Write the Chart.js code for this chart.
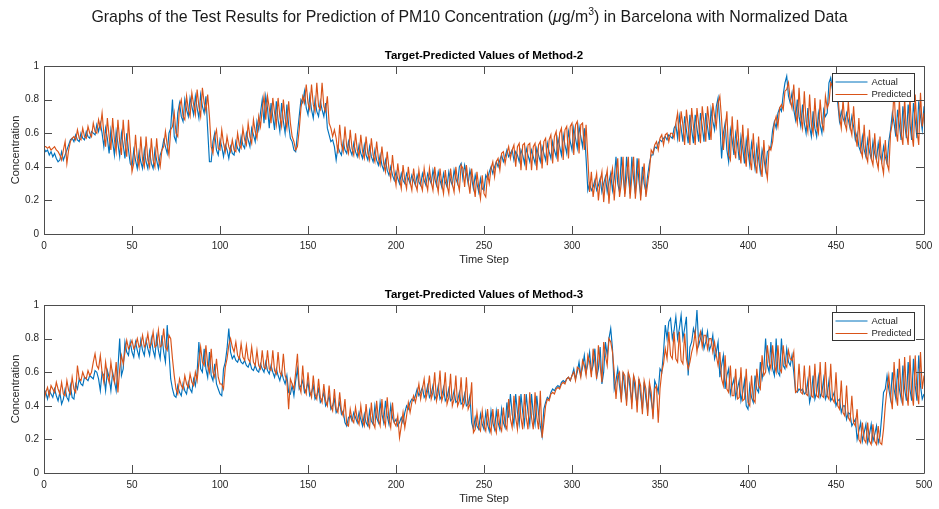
<!DOCTYPE html>
<html>
<head>
<meta charset="utf-8">
<script src="https://cdn.jsdelivr.net/npm/chart.js@4.4.1/dist/chart.umd.min.js"></script>
<style>
  html, body { margin: 0; padding: 0; background: #fff; }
  #page { position: relative; width: 939px; height: 509px; overflow: hidden; background: #fff; }
  #figTitle { position: absolute; left: 0; top: 8px; width: 939px; text-align: center; z-index: 2;
              font: 15.9px "Liberation Sans", Arial, Helvetica, sans-serif; color: #1a1a1a; white-space: nowrap; }
  #figTitle sup { font-size: 10.5px; vertical-align: 7px; line-height: 0; }
  canvas { position: absolute; left: 0; }
</style>
</head>
<body>
<div id="page">
  <div id="figTitle">Graphs of the Test Results for Prediction of PM10 Concentration (<i>μ</i>g/m<sup>3</sup>) in Barcelona with Normalized Data</div>
  <canvas id="panel2" width="939" height="270" style="top:0"></canvas>
  <canvas id="panel3" width="939" height="239" style="top:270px"></canvas>
</div>
<script>
// Method-2: measured (actual) and predicted normalized PM10, time steps 0..500
const actual2 = [
  0.51, 0.49, 0.50, 0.47, 0.49, 0.46, 0.48, 0.45, 0.43, 0.44,
  0.49, 0.44, 0.47, 0.50, 0.53, 0.56, 0.57, 0.55, 0.59, 0.56,
  0.55, 0.60, 0.57, 0.56, 0.61, 0.58, 0.57, 0.61, 0.60, 0.59,
  0.65, 0.61, 0.66, 0.60, 0.52, 0.63, 0.57, 0.48, 0.62, 0.55,
  0.47, 0.61, 0.54, 0.46, 0.60, 0.53, 0.45, 0.60, 0.50, 0.42,
  0.40, 0.50, 0.44, 0.39, 0.49, 0.43, 0.39, 0.50, 0.43, 0.39,
  0.49, 0.42, 0.39, 0.50, 0.44, 0.39, 0.47, 0.50, 0.56, 0.52,
  0.48, 0.60, 0.63, 0.80, 0.58, 0.55, 0.72, 0.78, 0.70, 0.67,
  0.80, 0.74, 0.70, 0.81, 0.76, 0.71, 0.82, 0.75, 0.69, 0.83,
  0.76, 0.72, 0.82, 0.62, 0.43, 0.43, 0.55, 0.60, 0.50, 0.47,
  0.56, 0.52, 0.46, 0.53, 0.50, 0.45, 0.52, 0.48, 0.47, 0.55,
  0.51, 0.49, 0.58, 0.53, 0.51, 0.60, 0.56, 0.52, 0.63, 0.59,
  0.55, 0.67, 0.62, 0.72, 0.80, 0.66, 0.82, 0.75, 0.63, 0.78,
  0.70, 0.62, 0.79, 0.68, 0.61, 0.78, 0.67, 0.60, 0.77, 0.65,
  0.57, 0.55, 0.50, 0.49, 0.60, 0.70, 0.80, 0.78, 0.85, 0.75,
  0.71, 0.82, 0.74, 0.69, 0.80, 0.73, 0.70, 0.79, 0.74, 0.70,
  0.78, 0.63, 0.59, 0.55, 0.56, 0.52, 0.44, 0.52, 0.49, 0.47,
  0.55, 0.50, 0.48, 0.55, 0.50, 0.47, 0.54, 0.49, 0.46, 0.53,
  0.48, 0.45, 0.53, 0.47, 0.44, 0.52, 0.46, 0.43, 0.50, 0.44,
  0.41, 0.47, 0.41, 0.38, 0.44, 0.38, 0.35, 0.40, 0.35, 0.32,
  0.37, 0.33, 0.30, 0.36, 0.32, 0.30, 0.36, 0.33, 0.30, 0.35,
  0.32, 0.29, 0.35, 0.31, 0.29, 0.36, 0.32, 0.29, 0.36, 0.33,
  0.30, 0.38, 0.33, 0.29, 0.37, 0.32, 0.28, 0.36, 0.31, 0.28,
  0.37, 0.32, 0.29, 0.38, 0.33, 0.30, 0.40, 0.42, 0.33, 0.41,
  0.36, 0.30, 0.38, 0.33, 0.27, 0.35, 0.30, 0.25, 0.33, 0.27,
  0.26, 0.35, 0.33, 0.37, 0.40, 0.36, 0.40, 0.43, 0.40, 0.44,
  0.47, 0.43, 0.46, 0.50, 0.46, 0.48, 0.50, 0.44, 0.49, 0.47,
  0.43, 0.50, 0.47, 0.42, 0.51, 0.47, 0.43, 0.50, 0.46, 0.42,
  0.51, 0.47, 0.43, 0.52, 0.48, 0.44, 0.54, 0.49, 0.45, 0.55,
  0.50, 0.46, 0.57, 0.52, 0.47, 0.59, 0.53, 0.48, 0.61, 0.55,
  0.50, 0.63, 0.57, 0.51, 0.64, 0.58, 0.52, 0.63, 0.45, 0.26,
  0.30, 0.26, 0.28, 0.32, 0.26, 0.29, 0.33, 0.25, 0.30, 0.34,
  0.25, 0.31, 0.36, 0.26, 0.33, 0.46, 0.30, 0.25, 0.46, 0.35,
  0.24, 0.46, 0.34, 0.24, 0.46, 0.33, 0.24, 0.45, 0.32, 0.23,
  0.40, 0.30, 0.25, 0.35, 0.42, 0.47, 0.47, 0.52, 0.51, 0.54,
  0.56, 0.55, 0.57, 0.58, 0.56, 0.59, 0.58, 0.57, 0.63, 0.65,
  0.57, 0.70, 0.63, 0.55, 0.70, 0.62, 0.54, 0.71, 0.62, 0.54,
  0.71, 0.63, 0.55, 0.72, 0.64, 0.55, 0.72, 0.64, 0.56, 0.74,
  0.67, 0.62, 0.76, 0.81, 0.66, 0.45, 0.60, 0.66, 0.50, 0.43,
  0.62, 0.56, 0.47, 0.60, 0.54, 0.44, 0.58, 0.51, 0.42, 0.56,
  0.49, 0.41, 0.54, 0.47, 0.39, 0.52, 0.45, 0.37, 0.50, 0.45,
  0.38, 0.49, 0.50, 0.52, 0.62, 0.67, 0.63, 0.72, 0.75, 0.73,
  0.83, 0.90, 0.94, 0.82, 0.78, 0.84, 0.74, 0.68, 0.80, 0.70,
  0.64, 0.77, 0.66, 0.60, 0.75, 0.64, 0.58, 0.73, 0.63, 0.58,
  0.72, 0.65, 0.60, 0.74, 0.70, 0.72, 0.90, 0.93, 0.86, 0.80,
  0.84, 0.78, 0.67, 0.73, 0.69, 0.66, 0.72, 0.68, 0.63, 0.70,
  0.64, 0.56, 0.60, 0.52, 0.49, 0.58, 0.50, 0.46, 0.56, 0.49,
  0.45, 0.55, 0.48, 0.44, 0.54, 0.47, 0.43, 0.52, 0.46, 0.42,
  0.55, 0.62, 0.72, 0.66, 0.58, 0.74, 0.65, 0.56, 0.76, 0.66,
  0.57, 0.77, 0.66, 0.56, 0.78, 0.68, 0.57, 0.79, 0.70, 0.62,
  0.76
];
const predicted2 = [
  0.52, 0.52, 0.51, 0.52, 0.50, 0.51, 0.52, 0.50, 0.49, 0.47,
  0.44, 0.50, 0.55, 0.42, 0.50, 0.55, 0.57, 0.58, 0.56, 0.62,
  0.57, 0.56, 0.63, 0.58, 0.57, 0.64, 0.60, 0.58, 0.66, 0.61,
  0.60, 0.68, 0.63, 0.72, 0.60, 0.52, 0.69, 0.58, 0.50, 0.69,
  0.56, 0.49, 0.68, 0.55, 0.47, 0.68, 0.54, 0.46, 0.68, 0.52,
  0.37, 0.42, 0.59, 0.45, 0.40, 0.58, 0.44, 0.40, 0.58, 0.44,
  0.40, 0.57, 0.44, 0.40, 0.57, 0.45, 0.40, 0.50, 0.52, 0.61,
  0.53, 0.47, 0.62, 0.64, 0.72, 0.60, 0.58, 0.76, 0.80, 0.70,
  0.68, 0.82, 0.74, 0.70, 0.84, 0.77, 0.71, 0.86, 0.76, 0.70,
  0.87, 0.78, 0.73, 0.83, 0.70, 0.52, 0.48, 0.58, 0.62, 0.51,
  0.50, 0.62, 0.54, 0.49, 0.58, 0.52, 0.49, 0.56, 0.50, 0.49,
  0.60, 0.53, 0.51, 0.63, 0.56, 0.53, 0.66, 0.58, 0.54, 0.68,
  0.61, 0.57, 0.70, 0.64, 0.74, 0.82, 0.68, 0.82, 0.75, 0.66,
  0.81, 0.72, 0.65, 0.81, 0.70, 0.64, 0.80, 0.69, 0.63, 0.79,
  0.66, 0.58, 0.55, 0.50, 0.52, 0.62, 0.75, 0.82, 0.78, 0.89,
  0.78, 0.74, 0.89, 0.77, 0.73, 0.90, 0.76, 0.74, 0.90, 0.76,
  0.73, 0.82, 0.66, 0.63, 0.58, 0.62, 0.57, 0.48, 0.65, 0.53,
  0.49, 0.64, 0.52, 0.48, 0.62, 0.51, 0.47, 0.60, 0.50, 0.46,
  0.59, 0.49, 0.45, 0.58, 0.48, 0.44, 0.57, 0.47, 0.43, 0.55,
  0.45, 0.41, 0.52, 0.42, 0.37, 0.49, 0.39, 0.33, 0.47, 0.36,
  0.29, 0.42, 0.33, 0.27, 0.41, 0.32, 0.27, 0.40, 0.31, 0.26,
  0.39, 0.30, 0.26, 0.38, 0.30, 0.26, 0.39, 0.31, 0.26, 0.39,
  0.31, 0.26, 0.40, 0.31, 0.25, 0.39, 0.30, 0.24, 0.38, 0.29,
  0.24, 0.39, 0.30, 0.25, 0.40, 0.31, 0.26, 0.41, 0.39, 0.28,
  0.41, 0.32, 0.24, 0.39, 0.30, 0.22, 0.37, 0.28, 0.21, 0.35,
  0.24, 0.22, 0.36, 0.30, 0.39, 0.43, 0.34, 0.43, 0.45, 0.38,
  0.48, 0.49, 0.42, 0.48, 0.52, 0.45, 0.50, 0.53, 0.40, 0.52,
  0.54, 0.38, 0.53, 0.54, 0.38, 0.53, 0.54, 0.38, 0.52, 0.54,
  0.38, 0.53, 0.55, 0.39, 0.55, 0.57, 0.41, 0.56, 0.59, 0.42,
  0.58, 0.61, 0.43, 0.60, 0.63, 0.44, 0.62, 0.64, 0.45, 0.64,
  0.66, 0.47, 0.65, 0.67, 0.48, 0.65, 0.66, 0.50, 0.65, 0.45,
  0.25, 0.37, 0.22, 0.30, 0.36, 0.20, 0.31, 0.37, 0.19, 0.32,
  0.38, 0.18, 0.33, 0.39, 0.20, 0.35, 0.45, 0.22, 0.30, 0.46,
  0.22, 0.33, 0.46, 0.21, 0.34, 0.46, 0.21, 0.34, 0.45, 0.20,
  0.33, 0.42, 0.22, 0.30, 0.38, 0.50, 0.48, 0.53, 0.55, 0.50,
  0.57, 0.59, 0.53, 0.59, 0.60, 0.55, 0.60, 0.60, 0.57, 0.66,
  0.72, 0.55, 0.73, 0.65, 0.53, 0.74, 0.64, 0.53, 0.75, 0.64,
  0.53, 0.75, 0.65, 0.54, 0.76, 0.66, 0.55, 0.76, 0.66, 0.56,
  0.78, 0.70, 0.64, 0.78, 0.82, 0.68, 0.50, 0.62, 0.73, 0.47,
  0.44, 0.70, 0.52, 0.45, 0.68, 0.50, 0.42, 0.65, 0.48, 0.40,
  0.63, 0.45, 0.38, 0.60, 0.43, 0.36, 0.58, 0.41, 0.34, 0.56,
  0.40, 0.33, 0.52, 0.50, 0.55, 0.66, 0.70, 0.64, 0.75, 0.77,
  0.74, 0.85, 0.86, 0.90, 0.80, 0.75, 0.89, 0.72, 0.66, 0.87,
  0.69, 0.63, 0.85, 0.67, 0.61, 0.83, 0.65, 0.60, 0.81, 0.64,
  0.60, 0.80, 0.66, 0.62, 0.82, 0.75, 0.78, 0.90, 0.88, 0.82,
  0.82, 0.84, 0.70, 0.63, 0.80, 0.66, 0.62, 0.79, 0.64, 0.59,
  0.76, 0.60, 0.52, 0.69, 0.50, 0.46, 0.65, 0.47, 0.43, 0.62,
  0.45, 0.41, 0.60, 0.44, 0.39, 0.58, 0.42, 0.36, 0.56, 0.42,
  0.38, 0.60, 0.66, 0.86, 0.62, 0.55, 0.80, 0.60, 0.53, 0.81,
  0.60, 0.53, 0.82, 0.60, 0.52, 0.83, 0.62, 0.53, 0.84, 0.64,
  0.72
];

// Method-3: measured (actual) and predicted normalized PM10, time steps 0..500
const actual3 = [
  0.50, 0.48, 0.44, 0.49, 0.47, 0.45, 0.50, 0.46, 0.43, 0.48,
  0.41, 0.44, 0.50, 0.45, 0.43, 0.52, 0.45, 0.44, 0.53, 0.50,
  0.56, 0.53, 0.52, 0.57, 0.56, 0.55, 0.58, 0.57, 0.56, 0.61,
  0.60, 0.56, 0.49, 0.60, 0.58, 0.49, 0.61, 0.57, 0.49, 0.60,
  0.55, 0.49, 0.62, 0.80, 0.58, 0.62, 0.78, 0.72, 0.70, 0.78,
  0.72, 0.69, 0.78, 0.73, 0.69, 0.79, 0.73, 0.70, 0.79, 0.74,
  0.70, 0.80, 0.73, 0.69, 0.81, 0.73, 0.68, 0.82, 0.72, 0.66,
  0.88, 0.72, 0.56, 0.50, 0.46, 0.45, 0.52, 0.48, 0.46, 0.53,
  0.49, 0.47, 0.54, 0.50, 0.48, 0.56, 0.52, 0.60, 0.78, 0.62,
  0.60, 0.74, 0.62, 0.57, 0.72, 0.58, 0.55, 0.65, 0.53, 0.50,
  0.47, 0.46, 0.62, 0.66, 0.74, 0.86, 0.72, 0.68, 0.70, 0.67,
  0.66, 0.69, 0.66, 0.65, 0.67, 0.64, 0.63, 0.66, 0.62, 0.61,
  0.64, 0.61, 0.60, 0.65, 0.62, 0.60, 0.66, 0.61, 0.59, 0.64,
  0.60, 0.57, 0.62, 0.58, 0.55, 0.60, 0.56, 0.53, 0.58, 0.48,
  0.47, 0.52, 0.46, 0.55, 0.62, 0.50, 0.52, 0.55, 0.48, 0.50,
  0.54, 0.46, 0.48, 0.52, 0.44, 0.46, 0.50, 0.42, 0.44, 0.48,
  0.40, 0.42, 0.46, 0.38, 0.40, 0.44, 0.36, 0.38, 0.42, 0.35,
  0.37, 0.30, 0.28, 0.33, 0.34, 0.31, 0.36, 0.33, 0.30, 0.36,
  0.32, 0.28, 0.35, 0.30, 0.28, 0.37, 0.31, 0.29, 0.40, 0.33,
  0.30, 0.42, 0.35, 0.30, 0.43, 0.34, 0.29, 0.40, 0.33, 0.30,
  0.32, 0.28, 0.30, 0.33, 0.30, 0.36, 0.40, 0.38, 0.42, 0.44,
  0.43, 0.46, 0.50, 0.46, 0.48, 0.51, 0.45, 0.47, 0.52, 0.45,
  0.47, 0.52, 0.44, 0.46, 0.52, 0.44, 0.46, 0.51, 0.43, 0.45,
  0.50, 0.43, 0.44, 0.49, 0.42, 0.43, 0.48, 0.41, 0.42, 0.47,
  0.40, 0.41, 0.46, 0.30, 0.26, 0.33, 0.28, 0.26, 0.35, 0.29,
  0.26, 0.36, 0.29, 0.25, 0.37, 0.30, 0.26, 0.37, 0.30, 0.26,
  0.38, 0.30, 0.27, 0.42, 0.33, 0.47, 0.35, 0.29, 0.47, 0.36,
  0.29, 0.47, 0.36, 0.29, 0.47, 0.36, 0.29, 0.47, 0.35, 0.29,
  0.46, 0.35, 0.28, 0.22, 0.38, 0.42, 0.45, 0.44, 0.48, 0.50,
  0.49, 0.51, 0.52, 0.51, 0.54, 0.55, 0.54, 0.56, 0.57, 0.55,
  0.58, 0.62, 0.56, 0.60, 0.66, 0.58, 0.63, 0.70, 0.60, 0.65,
  0.72, 0.60, 0.64, 0.74, 0.57, 0.62, 0.75, 0.53, 0.60, 0.78,
  0.70, 0.80, 0.86, 0.74, 0.50, 0.55, 0.62, 0.52, 0.44, 0.60,
  0.50, 0.43, 0.60, 0.50, 0.42, 0.58, 0.48, 0.40, 0.56, 0.46,
  0.38, 0.54, 0.44, 0.37, 0.52, 0.43, 0.36, 0.55, 0.52, 0.48,
  0.62, 0.60, 0.72, 0.88, 0.80, 0.90, 0.92, 0.80, 0.85, 0.93,
  0.80, 0.86, 0.94, 0.80, 0.86, 0.93, 0.58, 0.75, 0.78, 0.86,
  0.82, 0.97, 0.76, 0.80, 0.85, 0.74, 0.78, 0.84, 0.73, 0.76,
  0.82, 0.68, 0.72, 0.78, 0.57, 0.64, 0.70, 0.50, 0.58, 0.62,
  0.47, 0.52, 0.56, 0.45, 0.50, 0.55, 0.43, 0.48, 0.55, 0.40,
  0.38, 0.52, 0.45, 0.42, 0.58, 0.50, 0.48, 0.66, 0.56, 0.62,
  0.80, 0.64, 0.60, 0.78, 0.62, 0.58, 0.80, 0.60, 0.58, 0.80,
  0.64, 0.62, 0.74, 0.66, 0.64, 0.70, 0.60, 0.49, 0.48, 0.50,
  0.49, 0.50, 0.47, 0.48, 0.55, 0.42, 0.47, 0.58, 0.44, 0.48,
  0.57, 0.45, 0.48, 0.56, 0.44, 0.47, 0.55, 0.43, 0.45, 0.48,
  0.40, 0.43, 0.44, 0.36, 0.40, 0.40, 0.32, 0.36, 0.35, 0.28,
  0.30, 0.32, 0.20, 0.25, 0.30, 0.19, 0.24, 0.29, 0.18, 0.23,
  0.29, 0.19, 0.23, 0.28, 0.18, 0.22, 0.34, 0.48, 0.50, 0.58,
  0.50, 0.44, 0.60, 0.50, 0.44, 0.62, 0.50, 0.44, 0.64, 0.50,
  0.43, 0.66, 0.50, 0.43, 0.68, 0.52, 0.43, 0.70, 0.52, 0.44,
  0.47
];
const predicted3 = [
  0.43, 0.48, 0.51, 0.46, 0.52, 0.50, 0.48, 0.54, 0.50, 0.47,
  0.54, 0.47, 0.46, 0.55, 0.49, 0.47, 0.57, 0.50, 0.48, 0.64,
  0.56, 0.55, 0.60, 0.57, 0.56, 0.61, 0.58, 0.60, 0.66, 0.71,
  0.64, 0.62, 0.70, 0.60, 0.54, 0.66, 0.58, 0.54, 0.66, 0.58,
  0.54, 0.66, 0.48, 0.62, 0.70, 0.65, 0.72, 0.79, 0.74, 0.76,
  0.79, 0.74, 0.76, 0.80, 0.75, 0.76, 0.82, 0.75, 0.77, 0.83,
  0.75, 0.77, 0.84, 0.75, 0.76, 0.85, 0.75, 0.76, 0.86, 0.75,
  0.73, 0.82, 0.80, 0.68, 0.58, 0.50, 0.47, 0.56, 0.52, 0.50,
  0.58, 0.53, 0.51, 0.59, 0.54, 0.52, 0.60, 0.55, 0.66, 0.75,
  0.66, 0.64, 0.76, 0.64, 0.60, 0.74, 0.60, 0.57, 0.68, 0.57,
  0.53, 0.53, 0.50, 0.63, 0.68, 0.76, 0.80, 0.75, 0.72, 0.78,
  0.70, 0.68, 0.77, 0.69, 0.67, 0.76, 0.68, 0.66, 0.75, 0.66,
  0.64, 0.73, 0.64, 0.62, 0.73, 0.63, 0.62, 0.73, 0.62, 0.61,
  0.73, 0.61, 0.59, 0.72, 0.60, 0.58, 0.71, 0.58, 0.55, 0.38,
  0.56, 0.53, 0.50, 0.60, 0.71, 0.52, 0.48, 0.64, 0.50, 0.47,
  0.60, 0.49, 0.45, 0.58, 0.47, 0.44, 0.56, 0.45, 0.42, 0.53,
  0.43, 0.40, 0.52, 0.40, 0.37, 0.50, 0.38, 0.36, 0.48, 0.37,
  0.34, 0.44, 0.29, 0.28, 0.38, 0.32, 0.30, 0.39, 0.32, 0.29,
  0.40, 0.31, 0.28, 0.41, 0.30, 0.27, 0.42, 0.30, 0.27, 0.43,
  0.32, 0.28, 0.44, 0.32, 0.28, 0.45, 0.32, 0.27, 0.42, 0.30,
  0.28, 0.34, 0.21, 0.28, 0.36, 0.27, 0.34, 0.42, 0.36, 0.42,
  0.46, 0.42, 0.47, 0.53, 0.44, 0.50, 0.56, 0.44, 0.49, 0.58,
  0.44, 0.48, 0.60, 0.43, 0.48, 0.61, 0.43, 0.47, 0.60, 0.41,
  0.45, 0.59, 0.40, 0.44, 0.58, 0.40, 0.43, 0.57, 0.39, 0.42,
  0.57, 0.38, 0.41, 0.54, 0.24, 0.26, 0.36, 0.27, 0.25, 0.37,
  0.28, 0.25, 0.38, 0.28, 0.24, 0.38, 0.28, 0.24, 0.38, 0.28,
  0.25, 0.39, 0.29, 0.26, 0.44, 0.32, 0.27, 0.46, 0.33, 0.26,
  0.46, 0.33, 0.26, 0.47, 0.33, 0.26, 0.48, 0.33, 0.26, 0.48,
  0.33, 0.26, 0.49, 0.21, 0.30, 0.40, 0.44, 0.43, 0.47, 0.48,
  0.47, 0.50, 0.51, 0.50, 0.53, 0.54, 0.53, 0.56, 0.57, 0.55,
  0.58, 0.60, 0.55, 0.63, 0.62, 0.57, 0.67, 0.64, 0.58, 0.70,
  0.66, 0.57, 0.74, 0.66, 0.56, 0.76, 0.64, 0.54, 0.78, 0.70,
  0.64, 0.80, 0.78, 0.72, 0.60, 0.44, 0.58, 0.60, 0.42, 0.60,
  0.58, 0.40, 0.60, 0.56, 0.38, 0.58, 0.54, 0.36, 0.56, 0.52,
  0.35, 0.55, 0.50, 0.34, 0.54, 0.48, 0.32, 0.50, 0.52, 0.30,
  0.50, 0.60, 0.65, 0.74, 0.68, 0.84, 0.70, 0.68, 0.84, 0.68,
  0.66, 0.84, 0.67, 0.65, 0.83, 0.68, 0.62, 0.66, 0.72, 0.76,
  0.84, 0.72, 0.80, 0.84, 0.75, 0.82, 0.82, 0.74, 0.80, 0.80,
  0.72, 0.78, 0.70, 0.64, 0.72, 0.56, 0.52, 0.70, 0.50, 0.48,
  0.64, 0.46, 0.46, 0.62, 0.44, 0.45, 0.63, 0.43, 0.44, 0.62,
  0.42, 0.40, 0.58, 0.44, 0.42, 0.62, 0.52, 0.50, 0.70, 0.58,
  0.60, 0.76, 0.66, 0.62, 0.76, 0.64, 0.60, 0.76, 0.62, 0.60,
  0.76, 0.65, 0.63, 0.73, 0.68, 0.67, 0.72, 0.48, 0.49, 0.65,
  0.48, 0.47, 0.64, 0.47, 0.46, 0.64, 0.46, 0.45, 0.65, 0.46,
  0.45, 0.66, 0.46, 0.45, 0.66, 0.46, 0.44, 0.65, 0.44, 0.42,
  0.60, 0.40, 0.38, 0.55, 0.36, 0.34, 0.52, 0.33, 0.31, 0.46,
  0.30, 0.28, 0.38, 0.20, 0.18, 0.30, 0.20, 0.18, 0.30, 0.19,
  0.17, 0.29, 0.19, 0.17, 0.28, 0.18, 0.17, 0.26, 0.40, 0.50,
  0.58, 0.46, 0.38, 0.66, 0.48, 0.40, 0.68, 0.48, 0.40, 0.69,
  0.48, 0.40, 0.70, 0.48, 0.40, 0.70, 0.49, 0.41, 0.72, 0.50,
  0.58
];

const seriesNames = ['Actual', 'Predicted'];
const seriesColors = ['#0072BD', '#D95319'];
const xTicks = { min: 0, max: 500, step: 50 };
const yTicks = { min: 0, max: 1, step: 0.2 };

const FONT = '"Liberation Sans", Arial, Helvetica, sans-serif';
Chart.defaults.font.family = FONT;
Chart.defaults.color = '#262626';

// Box around the plotting area with inward tick marks on all four sides
const boxAxes = {
  id: 'boxAxes',
  afterDatasetsDraw(chart) {
    const { ctx, chartArea: a, scales } = chart;
    const len = 8;
    ctx.save();
    ctx.strokeStyle = '#4d4d4d';
    ctx.lineWidth = 1;
    ctx.beginPath();
    ctx.rect(a.left + 0.5, a.top + 0.5, a.right - a.left, a.bottom - a.top);
    scales.x.ticks.forEach(t => {
      const px = Math.round(scales.x.getPixelForValue(t.value)) + 0.5;
      ctx.moveTo(px, a.bottom); ctx.lineTo(px, a.bottom - len);
      ctx.moveTo(px, a.top); ctx.lineTo(px, a.top + len);
    });
    scales.y.ticks.forEach(t => {
      const py = Math.round(scales.y.getPixelForValue(t.value)) + 0.5;
      ctx.moveTo(a.left, py); ctx.lineTo(a.left + len, py);
      ctx.moveTo(a.right, py); ctx.lineTo(a.right - len, py);
    });
    ctx.stroke();
    ctx.restore();
  }
};

// Bold panel title centred over the plotting area
const panelTitle = {
  id: 'panelTitle',
  afterDraw(chart, args, opts) {
    const { ctx, chartArea: a } = chart;
    ctx.save();
    ctx.font = 'bold 11.5px ' + FONT;
    ctx.fillStyle = '#000';
    ctx.textAlign = 'center';
    ctx.textBaseline = 'middle';
    ctx.fillText(opts.text, (a.left + a.right) / 2, a.top - 10.5);
    ctx.restore();
  }
};

// Legend drawn inside the top-right corner of the plotting area
const innerLegend = {
  id: 'innerLegend',
  afterDraw(chart) {
    const { ctx, chartArea: a } = chart;
    const items = chart.data.datasets.slice().sort((p, q) => p.legendIndex - q.legendIndex);
    const w = 82, h = 28;
    const x0 = Math.round(a.right - 92) + 0.5, y0 = Math.round(a.top + 7) + 0.5;
    ctx.save();
    ctx.fillStyle = '#fff';
    ctx.fillRect(x0, y0, w, h);
    ctx.strokeStyle = '#333';
    ctx.lineWidth = 1;
    ctx.strokeRect(x0, y0, w, h);
    ctx.font = '9.5px ' + FONT;
    ctx.textBaseline = 'middle';
    ctx.textAlign = 'left';
    items.forEach((ds, i) => {
      const yy = y0 + 8.5 + i * 12.5;
      ctx.strokeStyle = ds.borderColor;
      ctx.lineWidth = 1;
      ctx.beginPath();
      ctx.moveTo(x0 + 3, yy); ctx.lineTo(x0 + 35, yy);
      ctx.stroke();
      ctx.fillStyle = '#262626';
      ctx.fillText(ds.label, x0 + 39, yy);
    });
    ctx.restore();
  }
};

function makePanel(canvasId, titleText, actual, predicted, areaTop) {
  const steps = actual.map((_, i) => i);
  const toPoints = arr => arr.map((v, i) => ({ x: steps[i], y: v }));
  return new Chart(document.getElementById(canvasId), {
    type: 'line',
    data: {
      datasets: [
        { label: seriesNames[0], data: toPoints(actual), borderColor: seriesColors[0],
          borderWidth: 1.15, pointRadius: 0, tension: 0, order: 2, legendIndex: 0 },
        { label: seriesNames[1], data: toPoints(predicted), borderColor: seriesColors[1],
          borderWidth: 1.15, pointRadius: 0, tension: 0, order: 1, legendIndex: 1 }
      ]
    },
    options: {
      responsive: false,
      animation: false,
      devicePixelRatio: 1,
      layout: { padding: { left: 0, right: 15, top: areaTop, bottom: 0 } },
      plugins: {
        legend: { display: false },
        tooltip: { enabled: false },
        title: { display: false },
        panelTitle: { text: titleText }
      },
      scales: {
        x: {
          type: 'linear', min: xTicks.min, max: xTicks.max, offset: false,
          grid: { display: false, drawTicks: false }, border: { display: false },
          ticks: { stepSize: xTicks.step, padding: 6, maxRotation: 0, autoSkip: false,
                   font: { size: 10 }, color: '#262626' },
          title: { display: true, text: 'Time Step', color: '#262626',
                   font: { size: 11, lineHeight: 1.2 }, padding: { top: 0, bottom: 3.5 } },
          afterFit(s) { s.height = 36; }
        },
        y: {
          min: yTicks.min, max: yTicks.max,
          grid: { display: false, drawTicks: false }, border: { display: false },
          ticks: { stepSize: yTicks.step, padding: 5, font: { size: 10 }, color: '#262626',
                   callback: v => String(Number(v.toFixed(1))) },
          title: { display: true, text: 'Concentration', color: '#262626',
                   font: { size: 11, lineHeight: 1.2 }, padding: { top: 9.5, bottom: 0 } },
          afterFit(s) { s.width = 44; }
        }
      }
    },
    plugins: [boxAxes, panelTitle, innerLegend]
  });
}

makePanel('panel2', 'Target-Predicted Values of Method-2', actual2, predicted2, 66);
makePanel('panel3', 'Target-Predicted Values of Method-3', actual3, predicted3, 35);
</script>
</body>
</html>
